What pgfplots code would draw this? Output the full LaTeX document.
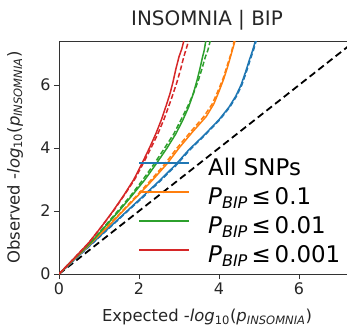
\documentclass[border=0pt]{standalone}
\usepackage{fontspec}
\setmainfont{DejaVu Sans}
\usepackage{pgfplots}
\pgfplotsset{compat=1.18}
\usetikzlibrary{calc}
\definecolor{tabblue}{HTML}{1F77B4}
\definecolor{taborange}{HTML}{FF7F0E}
\definecolor{tabgreen}{HTML}{2CA02C}
\definecolor{tabred}{HTML}{D62728}
\begin{document}
\begin{tikzpicture}
\begin{axis}[
  scale only axis, width=296bp, height=233bp,
  xmin=0, xmax=7.4, ymin=0, ymax=7.4,
  xtick={0,2,4,6}, ytick={0,2,4,6},
  tick align=outside, xtick pos=left, ytick pos=left,
  major tick length=5bp,
  axis line style={black!80, line width=0.9bp},
  tick style={black!80, line width=0.9bp},
  tick label style={font=\fontsize{16}{18}\selectfont, text=black!85},
  /pgf/number format/assume math mode=true,
  title={INSOMNIA | BIP},
  title style={font=\fontsize{20}{22}\selectfont, at={(rel axis cs:0.5,1.043)}, anchor=base, text=black!85},
  xlabel={Expected -\textit{log}\textsubscript{10}(\textit{p}\textsubscript{\textit{INSOMNIA}})},
  ylabel={Observed -\textit{log}\textsubscript{10}(\textit{p}\textsubscript{\textit{INSOMNIA}})},
  xlabel style={font=\fontsize{16.5}{18}\selectfont, at={(rel axis cs:0.5,-0.206)}, anchor=base, text=black!85},
  ylabel style={font=\fontsize{16.5}{18}\selectfont, at={(rel axis cs:-0.1486,0.5)}, anchor=center, text=black!85},
  legend style={draw=none, fill=none, font=\fontsize{23}{25}\selectfont,
    at={(axis cs:1.9,3.79)}, anchor=north west,
    nodes={inner sep=0pt, text height=19bp, text depth=8bp},
    row sep=2bp,
    /tikz/every odd column/.style={column sep=18bp}},
  legend cell align=left,
  legend image code/.code={\draw[#1, line width=2bp, solid] (0bp,7bp) -- (50bp,7bp);},
  every axis plot/.append style={line width=1.5bp},
]
\coordinate (bl) at (rel axis cs:0,0);
\addplot[black, dash pattern=on 7bp off 4bp, line width=1.8bp, forget plot] coordinates {(0,0) (7.4,7.4)};
% All SNPs
\addplot[tabblue] coordinates {(0,0)(0.45,0.53)(0.85,1.0)(1.3,1.53)(1.7,2.0)(2.1,2.47)(2.5,2.95)(2.9,3.45)(3.25,3.95)(3.62,4.4)(4.0,4.9)(4.25,5.3)(4.42,5.65)(4.55,6.0)(4.66,6.4)(4.76,6.8)(4.84,7.1)(4.91,7.4)};
\addlegendentry{All SNPs}
\addplot[tabblue, dash pattern=on 5bp off 2.5bp, forget plot] coordinates {(0,0)(0.45,0.52)(0.86,1.0)(1.31,1.52)(1.72,2.0)(2.12,2.46)(2.52,2.94)(2.92,3.44)(3.27,3.94)(3.64,4.4)(4.02,4.9)(4.27,5.3)(4.44,5.65)(4.57,6.0)(4.68,6.4)(4.78,6.8)(4.86,7.1)(4.93,7.4)};
% P<=0.1
\addplot[taborange] coordinates {(0,0)(0.42,0.52)(0.82,1.0)(1.22,1.5)(1.6,2.0)(1.98,2.5)(2.35,3.0)(2.7,3.5)(3.0,4.0)(3.33,4.5)(3.68,5.0)(3.87,5.4)(4.0,5.8)(4.12,6.2)(4.22,6.6)(4.31,7.0)(4.4,7.4)};
\addlegendentry{\textit{P}\textsubscript{\textit{BIP}}\,≤\,0.1}
\addplot[taborange, dash pattern=on 5bp off 2.5bp, forget plot] coordinates {(0,0)(0.42,0.52)(0.81,1.0)(1.2,1.5)(1.58,2.0)(1.95,2.5)(2.31,3.0)(2.65,3.5)(2.95,4.0)(3.28,4.5)(3.62,5.0)(3.83,5.4)(3.97,5.8)(4.1,6.2)(4.2,6.6)(4.3,7.0)(4.38,7.4)};
% P<=0.01
\addplot[tabgreen] coordinates {(0,0)(0.4,0.52)(0.8,1.0)(1.15,1.5)(1.5,2.0)(1.83,2.5)(2.15,3.0)(2.43,3.5)(2.7,4.0)(2.92,4.45)(3.1,4.9)(3.24,5.3)(3.35,5.7)(3.44,6.1)(3.52,6.5)(3.59,6.9)(3.63,7.1)(3.67,7.4)};
\addlegendentry{\textit{P}\textsubscript{\textit{BIP}}\,≤\,0.01}
\addplot[tabgreen, dash pattern=on 5bp off 2.5bp, forget plot] coordinates {(0,0)(0.4,0.52)(0.79,1.0)(1.13,1.5)(1.47,2.0)(1.8,2.5)(2.1,3.0)(2.38,3.5)(2.64,4.0)(2.87,4.45)(3.05,4.9)(3.21,5.3)(3.35,5.7)(3.47,6.1)(3.57,6.5)(3.66,6.9)(3.72,7.1)(3.78,7.4)};
% P<=0.001
\addplot[tabred] coordinates {(0,0)(0.38,0.5)(0.75,1.0)(1.06,1.5)(1.35,2.0)(1.62,2.5)(1.87,3.0)(2.07,3.5)(2.26,4.0)(2.42,4.45)(2.56,4.9)(2.68,5.35)(2.78,5.75)(2.85,6.1)(2.92,6.5)(3.0,6.9)(3.07,7.15)(3.12,7.4)};
\addlegendentry{\textit{P}\textsubscript{\textit{BIP}}\,≤\,0.001}
\addplot[tabred, dash pattern=on 5bp off 2.5bp, forget plot] coordinates {(0,0)(0.38,0.5)(0.75,1.0)(1.06,1.5)(1.36,2.0)(1.63,2.5)(1.89,3.0)(2.1,3.5)(2.3,4.0)(2.47,4.45)(2.62,4.9)(2.75,5.35)(2.86,5.75)(2.95,6.1)(3.04,6.5)(3.12,6.9)(3.18,7.15)(3.24,7.4)};
\end{axis}
\pgfresetboundingbox
\path ($(bl)+(-59bp,-57bp)$) rectangle ($(bl)+(288bp,274bp)$);
\end{tikzpicture}
\end{document}
